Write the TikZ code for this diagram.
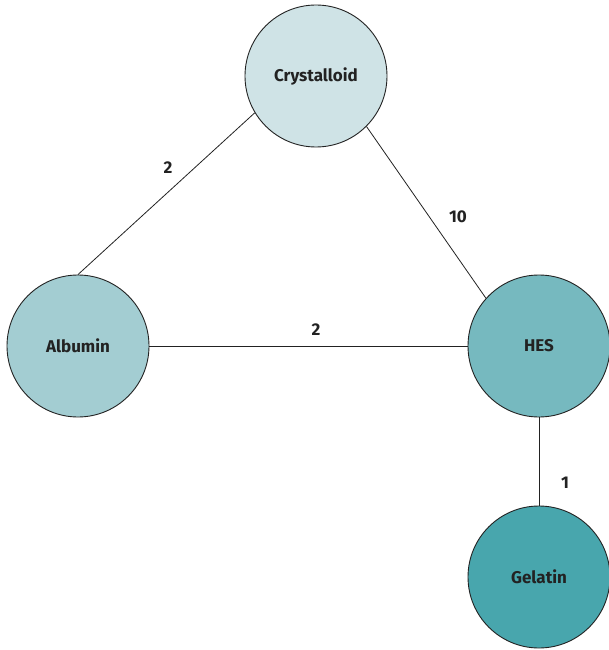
\documentclass[tikz,border=0pt]{standalone}
\usepackage{fontspec}
\setmainfont{Fira Sans}
\usepackage{tikz}
\usetikzlibrary{positioning}
\definecolor{crystc}{HTML}{CFE3E6}
\definecolor{albc}{HTML}{A3CDD2}
\definecolor{hesc}{HTML}{76B9BF}
\definecolor{gelc}{HTML}{48A6AD}
\definecolor{inkc}{HTML}{222222}

\begin{document}
\begin{tikzpicture}[x=1pt, y=-1pt,
  fluid/.style={circle, draw=inkc, line width=0.9pt, minimum size=142pt, inner sep=0pt,
                font=\fontsize{17}{19}\selectfont\bfseries, text=inkc},
  link/.style={draw=inkc, line width=0.8pt},
  wt/.style={font=\fontsize{17}{19}\selectfont\bfseries, text=inkc}]
  \useasboundingbox (0,0) rectangle (609,650);
  \node[fluid, fill=crystc] (cry) at (316,76)  {Crystalloid};
  \node[fluid, fill=albc]   (alb) at (78,346)  {Albumin};
  \node[fluid, fill=hesc]   (hes) at (539,346) {HES};
  \node[fluid, fill=gelc]   (gel) at (539,577) {Gelatin};
  \draw[link] (cry.211) -- (alb.north);
  \draw[link] (cry.315) -- (hes.138);
  \draw[link] (alb.east) -- (hes.west);
  \draw[link] (hes.south) -- (gel.north);
  \node[wt] (w1) at (168,168) {2};
  \node[wt] (w2) at (458,217) {10};
  \node[wt] (w3) at (316,330) {2};
  \node[wt] (w4) at (565,483) {1};
\end{tikzpicture}
\end{document}
